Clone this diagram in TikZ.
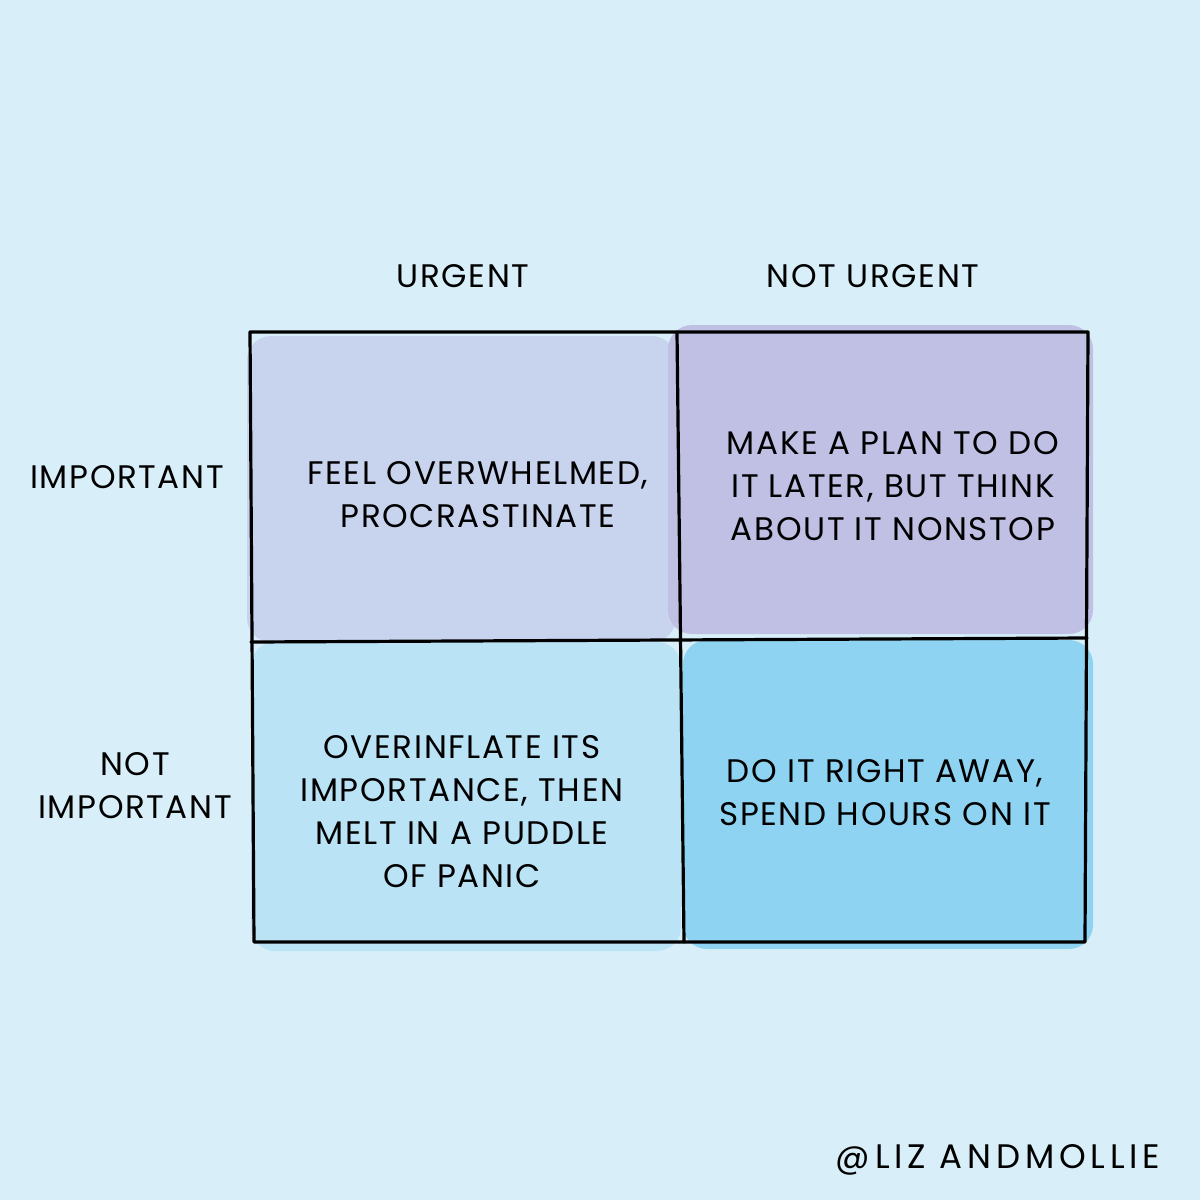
\documentclass[tikz,border=0pt]{standalone}
\usepackage{fontspec}
\setmainfont{Poppins}[LetterSpace=5]
\definecolor{bgc}{HTML}{D8EFF9}
\definecolor{tlc}{HTML}{C8D3EE}
\definecolor{trc}{HTML}{C0C0E4}
\definecolor{blc}{HTML}{BAE3F6}
\definecolor{brc}{HTML}{8FD3F2}
\tikzset{
  lab/.style={font=\fontsize{16.3}{21.5}\selectfont, align=center, inner sep=0pt, text=black},
  cellfill/.style={rounded corners=12pt, draw=none},
  gridline/.style={line width=1.6pt, black, line cap=round, line join=round}
}
\begin{document}
\begin{tikzpicture}[x=0.5pt,y=-0.5pt]
\fill[bgc] (0,0) rectangle (1200,1200);
\useasboundingbox (0,0) rectangle (1200,1200);
% cell fills
\fill[tlc, cellfill] (247,336) rectangle (676,642);
\fill[trc, cellfill] (668,325) rectangle (1093,634);
\fill[blc, cellfill] (251,642) rectangle (681,951);
\fill[brc, cellfill] (683,640) rectangle (1093,949);
% grid
\coordinate (tl) at (250,332);
\coordinate (tr) at (1088,332);
\coordinate (br) at (1085,942);
\coordinate (bl) at (254,942);
\coordinate (mt) at (677,332);
\coordinate (mb) at (684,942);
\coordinate (ml) at (251,642);
\coordinate (mr) at (1087,638);
\draw[gridline] (tl) -- (tr) -- (br) -- (bl) -- cycle;
\draw[gridline] (mt) -- (mb);
\draw[gridline] (ml) -- (mr);
% headers
\node[lab] (urg) at (463,276) {URGENT};
\node[lab] (nurg) at (873,276) {NOT URGENT};
\node[lab] (imp) at (127,477) {IMPORTANT};
\node[lab] (nimp) at (135,786) {NOT\\IMPORTANT};
% cells
\node[lab] (c1) at (478,495) {FEEL OVERWHELMED,\\PROCRASTINATE};
\node[lab] (c2) at (893,486) {MAKE A PLAN TO DO\\IT LATER, BUT THINK\\ABOUT IT NONSTOP};
\node[lab] (c3) at (462,812) {OVERINFLATE ITS\\IMPORTANCE, THEN\\MELT IN A PUDDLE\\OF PANIC};
\node[lab] (c4) at (885,793) {DO IT RIGHT AWAY,\\SPEND HOURS ON IT};
% signature
\node[font=\fontsize{17}{20}\addfontfeature{LetterSpace=14}\selectfont, inner sep=0pt] (sig) at (998,1160) {@LIZ ANDMOLLIE};
\end{tikzpicture}
\end{document}
